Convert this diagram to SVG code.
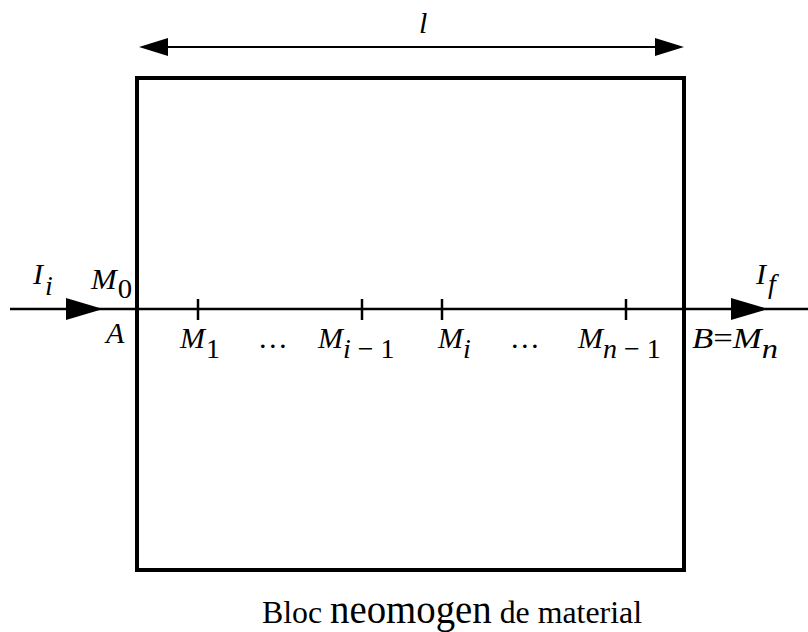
<svg xmlns="http://www.w3.org/2000/svg" width="808" height="632" viewBox="0 0 808 632">
<style>
text{font-family:"Liberation Serif","Times New Roman",serif;fill:#000}
.m{font-style:italic;font-size:30px}
.d{font-style:normal}
.s{font-size:28px}
.cap{font-size:32px}
.ln{stroke:#000;fill:none}
</style>
<rect width="808" height="632" fill="#fff"/>
<g id="block">
<rect x="137" y="78" width="547" height="492" fill="none" stroke="#000" stroke-width="4"/>
</g>
<g id="connectors">
<line class="ln" x1="10" y1="309" x2="808" y2="309" stroke-width="2.5"/>
<polygon points="66,298 103,309 66,320" fill="#000"/>
<polygon points="731,298 768,309 731,320" fill="#000"/>
<line class="ln" x1="160" y1="47" x2="662" y2="47" stroke-width="2"/>
<polygon points="139,47 168,38 168,56" fill="#000"/>
<polygon points="684,47 655,38 655,56" fill="#000"/>
<g stroke="#000" stroke-width="2.5">
<line x1="198" y1="299" x2="198" y2="320"/>
<line x1="362" y1="299" x2="362" y2="320"/>
<line x1="442" y1="299" x2="442" y2="320"/>
<line x1="626" y1="299" x2="626" y2="320"/>
</g>
</g>
<g id="labels">
<text class="m" x="419" y="33">l</text>
<text class="m" x="33" y="284">I<tspan class="s" dx="2" dy="11">i</tspan></text>
<text class="m" x="91" y="289" textLength="41" lengthAdjust="spacingAndGlyphs">M<tspan class="s d" dx="1" dy="9">0</tspan></text>
<text class="m" x="106" y="343">A</text>
<text class="m" x="180" y="348">M<tspan class="s d" dx="1" dy="10">1</tspan></text>
<text class="m" x="260" y="348">…</text>
<text class="m" x="318" y="348">M<tspan class="s" dy="10">i</tspan><tspan class="s d"> − 1</tspan></text>
<text class="m" x="438" y="348">M<tspan class="s" dy="10">i</tspan></text>
<text class="m" x="512" y="348">…</text>
<text class="m" x="578" y="348">M<tspan class="s" dy="10">n</tspan><tspan class="s d"> − 1</tspan></text>
<text class="m" x="692" y="348" textLength="86" lengthAdjust="spacingAndGlyphs">B<tspan class="d">=</tspan>M<tspan class="s" dy="10">n</tspan></text>
<text class="m" x="756" y="284">I<tspan class="s" dx="2" dy="9">f</tspan></text>
<text class="cap" x="262" y="623" textLength="380" lengthAdjust="spacingAndGlyphs">Bloc <tspan font-size="39">neomogen</tspan> de material</text>
</g>
</svg>
